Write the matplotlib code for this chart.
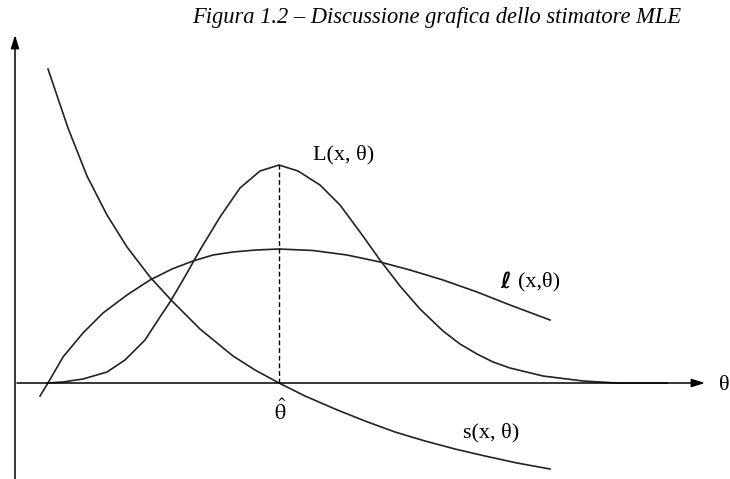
import matplotlib
matplotlib.use('Agg')
import matplotlib.pyplot as plt

# theta positions and heights of the three curves (origin where the axes cross)
L_theta = [32, 48, 68, 92, 110, 130, 145, 155, 168, 185, 205, 225, 245, 264,
           283, 305, 325, 345, 365, 385, 405, 428, 445, 462, 478, 495, 528,
           568, 602, 652]
L_vals = [0, 1, 4, 11, 23, 43, 66, 81, 103, 133, 166, 195, 212, 218,
          212, 198, 178, 151, 123, 97, 74, 52, 39, 29, 21, 15, 7,
          2, 0, 0]

ell_theta = [25, 33, 48, 68, 88, 112, 135, 157, 178, 198, 218, 241, 264,
             298, 332, 365, 395, 428, 462, 495, 535]
ell_vals = [-13, 0, 26, 50, 70, 88, 103, 114, 122, 128, 131, 133, 134,
            132.5, 128, 121, 113, 103, 91, 78, 63]

s_theta = [33, 53, 72, 92, 112, 135, 157, 185, 218, 240, 264, 290, 320,
           350, 380, 410, 440, 470, 502, 535]
s_vals = [314, 255, 207, 168, 136, 106, 82, 54, 27, 13, 0, -13, -26,
          -38, -49, -58, -66, -73, -80, -86]

theta_hat = 264
L_max = max(L_vals)

fig = plt.figure(figsize=(7.3, 4.79), dpi=100)
ax = fig.add_axes([0, 0, 1, 1])
ax.set_xlim(-15, 715)
ax.set_ylim(-96, 383)
ax.axis('off')

# axes with arrow heads
arrow = dict(arrowstyle='-|>,head_length=0.8,head_width=0.25', color='black',
             lw=1.1, shrinkA=0, shrinkB=0)
ax.annotate('', xy=(690, 0), xytext=(2, 0), arrowprops=arrow)
ax.annotate('', xy=(0, 348), xytext=(0, -96), arrowprops=arrow)

curve_color = '#222222'
ax.plot(L_theta, L_vals, color=curve_color, lw=1.2)
ax.plot(ell_theta, ell_vals, color=curve_color, lw=1.2)
ax.plot(s_theta, s_vals, color=curve_color, lw=1.2)

# maximum of the likelihood
ax.plot([theta_hat, theta_hat], [0, L_max], color='black', lw=1.0,
        linestyle=(0, (3.5, 2)))

serif = ['Liberation Serif', 'DejaVu Serif']
ax.text(329, 228, 'L(x, θ)', family=serif, fontsize=16, ha='center', va='center')
ax.text(485, 101, 'ℓ', family=['DejaVu Sans', 'Liberation Serif'], fontsize=16,
        fontweight='bold', style='italic', ha='left', va='center')
ax.text(503, 101, '(x,θ)', family=serif, fontsize=16, ha='left', va='center')
ax.text(476, -50, 's(x, θ)', family=serif, fontsize=16, ha='center', va='center')
ax.text(theta_hat + 1, -28, r'$\hat{\mathrm{\theta}}$', fontsize=16,
        math_fontfamily='stix', ha='center', va='center')
ax.text(709, -2, 'θ', family=serif, fontsize=16, ha='center', va='center')

title = ax.text(0, 0, 'Figura 1.2 – Discussione grafica dello stimatore MLE',
                family=serif, style='italic', fontsize=15, ha='left',
                va='center', transform=None)
# fit the title to its span (pixels from the lower-left corner)
fig.canvas.draw()
bb = title.get_window_extent()
title.set_fontsize(15 * 492 / bb.width)
fig.canvas.draw()
bb = title.get_window_extent()
title.set_position((192 - bb.x0, 479 - 18))

fig.savefig('out.png', dpi=100)
